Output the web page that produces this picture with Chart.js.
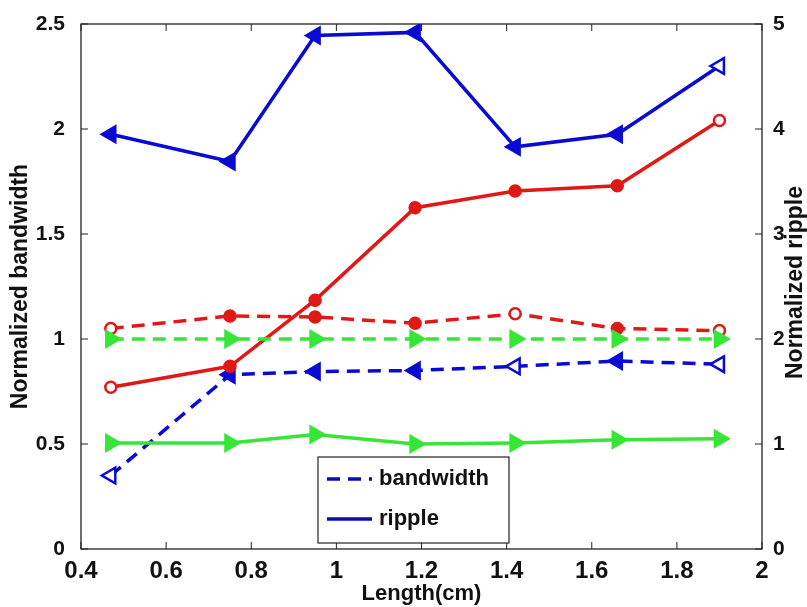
<!DOCTYPE html>
<html>
<head>
<meta charset="utf-8">
<script src="https://cdn.jsdelivr.net/npm/chart.js@4/dist/chart.umd.min.js"></script>
<style>
  html, body { margin: 0; padding: 0; background: #fff; }
  #wrap { width: 807px; height: 607px; }
</style>
</head>
<body>
<div id="wrap"><canvas id="lenChart" width="807" height="607"></canvas></div>
<script>
// fibre length (cm)
const lengths = [0.47, 0.75, 0.95, 1.185, 1.42, 1.66, 1.90];

// normalized bandwidth, left axis (dashed)
const bwBlue  = [0.35, 0.83, 0.845, 0.85, 0.87, 0.895, 0.88];
const bwRed   = [1.05, 1.11, 1.105, 1.075, 1.12, 1.05, 1.04];
const bwGreen = [1.0, 1.0, 1.0, 1.0, 1.0, 1.0, 1.0];

// normalized ripple, right axis (solid)
const rpBlue  = [3.95, 3.69, 4.89, 4.92, 3.83, 3.95, 4.60];
const rpRed   = [1.54, 1.74, 2.37, 3.25, 3.41, 3.46, 4.08];
const rpGreen = [1.01, 1.01, 1.09, 1.00, 1.01, 1.04, 1.05];

const legendNames = ['bandwidth', 'ripple'];

const BLUE = '#0a0ad2';
const RED = '#e01818';
const GREEN = '#36e636';
const FONT = "'Liberation Sans', Arial, sans-serif";

const pts = ys => ys.map((y, i) => ({ x: lengths[i], y: y }));
// hollow markers at the listed indices
const fills = (color, hollow) => lengths.map((_, i) => hollow.includes(i) ? '#fff' : color);
// 2 instead of 2.0, 0.5 stays 0.5
const plain = v => String(Math.round(v * 100) / 100);

function series(ys, color, axis, dashed, style, rot, radius, hollow) {
    return {
        data: pts(ys),
        yAxisID: axis,
        borderColor: color,
        borderWidth: 3.5,
        borderDash: dashed ? [13, 8] : [],
        pointStyle: style,
        rotation: rot,
        pointRadius: radius,
        pointBorderWidth: 2.5,
        pointBorderColor: color,
        pointBackgroundColor: fills(color, hollow),
        tension: 0
    };
}

// frame box with inward ticks, right axis title, and in-plot legend
const framePlugin = {
    id: 'frame',
    beforeDatasetsDraw(chart) {
        const { ctx, chartArea: a, scales } = chart;
        ctx.save();
        ctx.strokeStyle = '#222';
        ctx.lineWidth = 1.3;
        ctx.strokeRect(a.left, a.top, a.right - a.left, a.bottom - a.top);
        ctx.lineWidth = 1;
        const len = 7;
        ctx.beginPath();
        scales.x.ticks.forEach(t => {
            const px = scales.x.getPixelForValue(t.value);
            ctx.moveTo(px, a.bottom); ctx.lineTo(px, a.bottom - len);
            ctx.moveTo(px, a.top); ctx.lineTo(px, a.top + len);
        });
        scales.yL.ticks.forEach(t => {
            const py = scales.yL.getPixelForValue(t.value);
            ctx.moveTo(a.left, py); ctx.lineTo(a.left + len, py);
        });
        scales.yR.ticks.forEach(t => {
            const py = scales.yR.getPixelForValue(t.value);
            ctx.moveTo(a.right, py); ctx.lineTo(a.right - len, py);
        });
        ctx.stroke();

        // right axis title reads bottom-to-top like the left one
        ctx.translate(796, (a.top + a.bottom) / 2 - 4);
        ctx.rotate(-Math.PI / 2);
        ctx.fillStyle = '#111';
        ctx.font = 'bold 23px ' + FONT;
        ctx.textAlign = 'center';
        ctx.textBaseline = 'middle';
        ctx.fillText('Normalized ripple', 0, 0);
        ctx.restore();
    },
    afterDraw(chart) {
        const { ctx, chartArea: a } = chart;
        const bx = a.left + 237, by = a.top + 433, bw = 191, bh = 86;
        ctx.save();
        ctx.fillStyle = '#fff';
        ctx.fillRect(bx, by, bw, bh);
        ctx.strokeStyle = '#222';
        ctx.lineWidth = 1.2;
        ctx.strokeRect(bx, by, bw, bh);
        ctx.strokeStyle = '#0a0ab4';
        ctx.lineWidth = 3.5;
        ctx.font = 'bold 22px ' + FONT;
        ctx.fillStyle = '#111';
        ctx.textBaseline = 'middle';
        [[13, 8], []].forEach((dash, i) => {
            const ly = by + 22 + i * 40;
            ctx.setLineDash(dash);
            ctx.beginPath();
            ctx.moveTo(bx + 9, ly); ctx.lineTo(bx + 54, ly);
            ctx.stroke();
            ctx.fillText(legendNames[i], bx + 61, ly);
        });
        ctx.restore();
    }
};

new Chart(document.getElementById('lenChart'), {
    type: 'line',
    data: {
        datasets: [
            series(bwGreen, GREEN, 'yL', true, 'triangle', 90, 9, []),
            series(rpGreen, GREEN, 'yR', false, 'triangle', 90, 9, []),
            series(bwRed, RED, 'yL', true, 'circle', 0, 5.5, [0, 4, 6]),
            series(rpRed, RED, 'yR', false, 'circle', 0, 5.5, [0, 6]),
            series(bwBlue, BLUE, 'yL', true, 'triangle', -90, 9, [0, 4, 6]),
            series(rpBlue, BLUE, 'yR', false, 'triangle', -90, 9, [6])
        ]
    },
    options: {
        responsive: false,
        animation: false,
        layout: { padding: { top: 24, left: 0, right: 0, bottom: 0 } },
        plugins: {
            legend: { display: false },
            tooltip: { enabled: false }
        },
        scales: {
            x: {
                type: 'linear',
                min: 0.4,
                max: 2,
                ticks: { stepSize: 0.2, padding: 0, color: '#111', callback: plain, font: { family: FONT, size: 24, weight: 'bold' } },
                grid: { display: false },
                border: { display: false },
                title: { display: true, text: 'Length(cm)', color: '#111', padding: { top: 3, bottom: 0 }, font: { family: FONT, size: 22, weight: 'bold' } },
                afterFit(s) { s.height = 58; }
            },
            yL: {
                position: 'left',
                min: 0,
                max: 2.5,
                ticks: { stepSize: 0.5, padding: 8, color: '#111', callback: plain, font: { family: FONT, size: 21, weight: 'bold' } },
                grid: { display: false },
                border: { display: false },
                title: { display: true, text: 'Normalized bandwidth', color: '#111', padding: { top: 7, bottom: 0 }, font: { family: FONT, size: 23, weight: 'bold' } },
                afterFit(s) { s.width = 81; }
            },
            yR: {
                position: 'right',
                min: 0,
                max: 5,
                ticks: { stepSize: 1, padding: 3, color: '#111', callback: plain, font: { family: FONT, size: 21, weight: 'bold' } },
                grid: { display: false },
                border: { display: false },
                afterFit(s) { s.width = 45; }
            }
        }
    },
    plugins: [framePlugin]
});
</script>
</body>
</html>
